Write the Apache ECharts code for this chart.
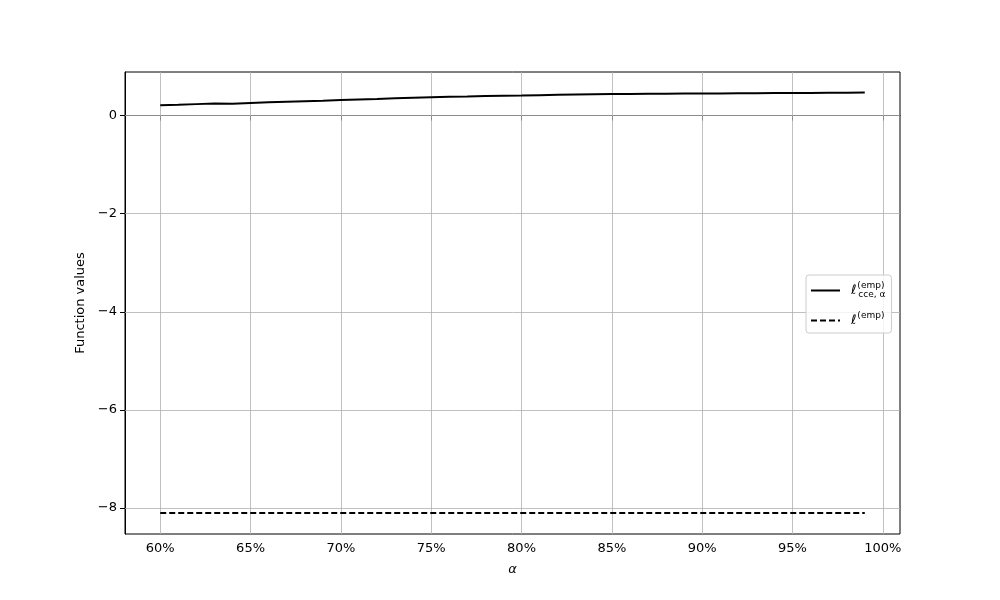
<!DOCTYPE html>
<html>
<head>
<meta charset="utf-8">
<script src="https://cdn.jsdelivr.net/npm/echarts@6/dist/echarts.min.js"></script>
<style>
  html, body { margin: 0; padding: 0; background: #fff; }
  #chart { width: 1000px; height: 600px; }
</style>
</head>
<body>
<div id="chart"></div>
<script>
// alpha levels (percent)
const alphas = [60, 61, 62, 63, 64, 65, 66, 67, 68, 69, 70, 71, 72, 73, 74, 75, 76, 77, 78, 79,
  80, 81, 82, 83, 84, 85, 86, 87, 88, 89, 90, 91, 92, 93, 94, 95, 96, 97, 98, 99];
// l_cce,alpha (emp)
const cceValues = [0.21, 0.22, 0.235, 0.25, 0.245, 0.26, 0.275, 0.285, 0.295, 0.305, 0.32, 0.33, 0.34, 0.355, 0.365, 0.375, 0.385, 0.39, 0.4, 0.405,
  0.41, 0.418, 0.424, 0.43, 0.435, 0.44, 0.442, 0.445, 0.447, 0.45, 0.452, 0.454, 0.456, 0.458, 0.46, 0.462, 0.464, 0.466, 0.468, 0.47];
// l (emp)
const empValues = [-8.1, -8.1, -8.1, -8.1, -8.1, -8.1, -8.1, -8.1, -8.1, -8.1, -8.1, -8.1, -8.1, -8.1, -8.1, -8.1, -8.1, -8.1, -8.1, -8.1,
  -8.1, -8.1, -8.1, -8.1, -8.1, -8.1, -8.1, -8.1, -8.1, -8.1, -8.1, -8.1, -8.1, -8.1, -8.1, -8.1, -8.1, -8.1, -8.1, -8.1];
const xTicks = [60, 65, 70, 75, 80, 85, 90, 95, 100];
const yTicks = [-8, -6, -4, -2, 0];

const FONT = 'DejaVu Sans';
const GRID_LINE = { color: '#b0b0b0', width: 0.8, type: 'solid' };

const chart = echarts.init(document.getElementById('chart'));

// grid lines at the tick positions
const gridLines = xTicks.map(v => ({ xAxis: v })).concat(yTicks.map(v => ({ yAxis: v })));

const option = {
  backgroundColor: '#fff',
  animation: false,
  grid: {
    left: 125, right: 100, top: 72, bottom: 66,
    show: true, borderColor: '#000', borderWidth: 1, backgroundColor: 'transparent'
  },
  legend: {
    orient: 'vertical',
    left: 806, top: 275,
    padding: [6, 6, 6, 4],
    itemGap: 12,
    itemWidth: 29, itemHeight: 14,
    itemStyle: { opacity: 0 },
    backgroundColor: 'rgba(255,255,255,0.8)',
    borderColor: '#cccccc', borderWidth: 1, borderRadius: 3,
    data: ['cce', 'emp'],
    formatter: function (name) {
      if (name === 'cce') return '{l|ℓ}{sup|(emp)}{sub|cce, α}';
      return '{l|ℓ}{sup2|(emp)}';
    },
    textStyle: {
      fontFamily: FONT, color: '#000',
      rich: {
        l: { fontSize: 13, fontFamily: FONT, fontStyle: 'italic', padding: [0, 1, 0, 6] },
        sup: { fontSize: 9, fontFamily: FONT, width: 1, padding: [0, 0, 10, 0], verticalAlign: 'middle' },
        sup2: { fontSize: 9, fontFamily: FONT, padding: [0, 0, 10, 0] },
        sub: { fontSize: 9, fontFamily: FONT, padding: [8, 0, 0, 0] }
      }
    }
  },
  xAxis: {
    type: 'value',
    min: 58.05, max: 100.95,
    name: 'α',
    nameLocation: 'middle',
    nameGap: 29,
    nameTextStyle: { fontFamily: FONT, fontSize: 13, color: '#000', fontStyle: 'italic' },
    axisLine: { show: true, lineStyle: { color: '#000', width: 1 } },
    axisTick: { show: true, length: 5, lineStyle: { color: '#000' }, customValues: xTicks },
    axisLabel: {
      customValues: xTicks, fontFamily: FONT, fontSize: 13, color: '#000', margin: 8,
      formatter: v => v + '%'
    },
    splitLine: { show: false }
  },
  yAxis: {
    type: 'value',
    min: -8.53, max: 0.89,
    name: 'Function values',
    nameLocation: 'middle',
    nameGap: 38,
    nameTextStyle: { fontFamily: FONT, fontSize: 13, color: '#000' },
    axisLine: { show: true, lineStyle: { color: '#000', width: 1 } },
    axisTick: { show: true, length: 5, lineStyle: { color: '#000' }, customValues: yTicks },
    axisLabel: {
      customValues: yTicks, fontFamily: FONT, fontSize: 13, color: '#000', margin: 8,
      formatter: v => (v < 0 ? '\u2212' + Math.abs(v) : String(v))
    },
    splitLine: { show: false }
  },
  series: [
    {
      name: 'cce',
      type: 'line',
      data: alphas.map((a, i) => [a, cceValues[i]]),
      symbol: 'none',
      lineStyle: { color: '#000', width: 2 },
      itemStyle: { color: '#000' },
      z: 3,
      markLine: {
        silent: true,
        symbol: 'none',
        label: { show: false },
        lineStyle: GRID_LINE,
        data: gridLines,
        z: 1
      }
    },
    {
      name: 'emp',
      type: 'line',
      data: alphas.map((a, i) => [a, empValues[i]]),
      symbol: 'none',
      lineStyle: { color: '#000', width: 2, type: [6, 3] },
      itemStyle: { color: '#000' },
      z: 3
    }
  ]
};

chart.setOption(option);
</script>
</body>
</html>
